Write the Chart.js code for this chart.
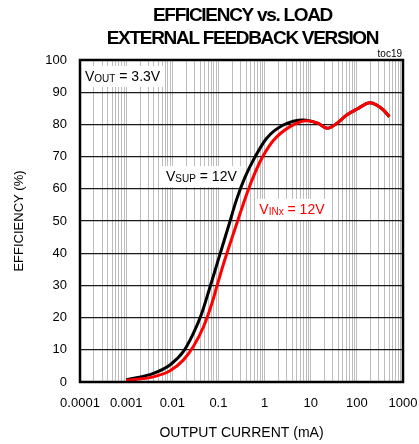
<!DOCTYPE html>
<html><head><meta charset="utf-8">
<script src="https://cdn.jsdelivr.net/npm/chart.js@4/dist/chart.umd.min.js"></script>
<style>html,body{margin:0;padding:0;background:#fff}canvas{display:block}</style>
</head><body>
<canvas id="c" width="419" height="444"></canvas>
<script>
const titleLines = ['EFFICIENCY vs. LOAD', 'EXTERNAL FEEDBACK VERSION'];
const figureTag = 'toc19';
const xTickLabels = ['0.0001', '0.001', '0.01', '0.1', '1', '10', '100', '1000'];
const yMin = 0, yMax = 100, yStep = 10;
const xTitle = 'OUTPUT CURRENT (mA)';
const yTitle = 'EFFICIENCY (%)';

// VSUP = 12V (black)
const vsupCurrent = [0.001, 0.0039, 0.0089, 0.0173, 0.0286, 0.0434, 0.0604, 0.0995, 0.164, 0.249, 0.377, 0.57, 1.11, 2.55, 6.9, 14.6, 22.9, 36.6, 60.2, 99, 193, 269, 374, 505];
const vsupEff     = [0.6,   2.7,    5.3,    9.4,    15.1,   21.3,   27.8,   38.0,   48.2,  56.8,  63.6,  68.9, 75.7, 79.8, 81.4, 80.3, 78.8, 80.3, 82.9, 84.7, 86.7, 86.0, 84.5, 82.4];
// VINx = 12V (red)
const vinxCurrent = [0.001, 0.0039, 0.0089, 0.0173, 0.0286, 0.047, 0.0715, 0.0995, 0.139, 0.229, 0.346, 0.526, 0.796, 1.02, 1.55, 3.56, 8.2, 14.6, 22.9, 36.6, 60.2, 99, 193, 269, 374, 505];
const vinxEff     = [0.5,   1.6,    3.5,    6.8,    11.0,   17.0,  24.2,   31.3,   38.2,  47.6,  55.3,  62.5,  68.4,  71.2, 75.0, 79.3, 81.1, 80.3, 78.8, 80.3, 82.9, 84.7, 86.7, 86.0, 84.5, 82.4];

// text annotations: [main, subscript, rest, color, anchor current, anchor efficiency]
const notes = [
  ['V', 'OUT', ' = 3.3V', '#000', 0.000128, 93.5],
  ['V', 'SUP', ' = 12V', '#000', 0.00731, 62.4],
  ['V', 'INx', ' = 12V', '#ff0000', 0.769, 52.2]
];

const FONT = "'Liberation Sans', Arial, sans-serif";
const toPts = (xs, ys) => xs.map((x, i) => ({x, y: ys[i]}));

const deco = {
  id: 'deco',
  beforeDatasetsDraw(chart) {
    const ctx = chart.ctx, xs = chart.scales.x, ys = chart.scales.y;
    ctx.save();
    for (const [m, sub, rest, col, ax, ay] of notes) {
      const px = xs.getPixelForValue(ax), py = ys.getPixelForValue(ay);
      ctx.font = '14px ' + FONT; const w1 = ctx.measureText(m).width; const w3 = ctx.measureText(rest).width;
      ctx.font = '10px ' + FONT; const w2 = ctx.measureText(sub).width;
      ctx.fillStyle = '#fff';
      ctx.fillRect(px - 4, py - 15, w1 + w2 + w3 + 8, 21);
      ctx.fillStyle = col; ctx.textBaseline = 'alphabetic'; ctx.textAlign = 'left';
      ctx.font = '14px ' + FONT; ctx.fillText(m, px, py);
      ctx.font = '10px ' + FONT; ctx.fillText(sub, px + w1, py + 1);
      ctx.font = '14px ' + FONT; ctx.fillText(rest, px + w1 + w2, py);
    }
    ctx.restore();
  },
  afterDraw(chart) {
    const ctx = chart.ctx, a = chart.chartArea;
    ctx.save();
    ctx.strokeStyle = '#000'; ctx.lineWidth = 2.5;
    ctx.strokeRect(a.left, a.top, a.right - a.left, a.bottom - a.top);
    ctx.fillStyle = '#000'; ctx.textAlign = 'center'; ctx.textBaseline = 'alphabetic';
    ctx.font = 'bold 19px ' + FONT;
    if ('letterSpacing' in ctx) ctx.letterSpacing = '-1.3px';
    const cx = (a.left + a.right) / 2 + 1;
    ctx.fillText(titleLines[0], cx, 21);
    ctx.fillText(titleLines[1], cx, 44);
    if ('letterSpacing' in ctx) ctx.letterSpacing = '0px';
    ctx.font = '10px ' + FONT; ctx.textAlign = 'right';
    ctx.fillText(figureTag, a.right - 1, 57);
    ctx.restore();
  }
};

new Chart(document.getElementById('c'), {
  type: 'line',
  data: {
    datasets: [
      {label: 'VINx = 12V', data: toPts(vinxCurrent, vinxEff), borderColor: '#ff0000', borderWidth: 3, pointRadius: 0, cubicInterpolationMode: 'monotone', fill: false},
      {label: 'VSUP = 12V', data: toPts(vsupCurrent, vsupEff), borderColor: '#000000', borderWidth: 3, pointRadius: 0, cubicInterpolationMode: 'monotone', fill: false}
    ]
  },
  options: {
    responsive: false, animation: false, events: [],
    layout: {padding: {top: 60, right: 16, left: 0, bottom: 0}},
    plugins: {legend: {display: false}, tooltip: {enabled: false}, title: {display: false}},
    scales: {
      x: {
        type: 'logarithmic', min: parseFloat(xTickLabels[0]), max: parseFloat(xTickLabels[xTickLabels.length - 1]),
        afterBuildTicks(scale) {
          const t = [];
          xTickLabels.forEach((lab, i) => {
            const d = parseFloat(lab);
            if (i < xTickLabels.length - 1) { for (let m = 1; m <= 9; m++) t.push({value: +(m * d).toPrecision(6)}); }
            else t.push({value: d});
          });
          scale.ticks = t;
        },
        afterFit(scale) { scale.height = 62; scale.paddingLeft = 0; scale.paddingRight = 0; },
        ticks: {
          autoSkip: false, maxRotation: 0, minRotation: 0, padding: 14, color: '#000',
          font: {family: FONT, size: 13},
          callback(v) { const l = xTickLabels.find(s => parseFloat(s) === v); return l === undefined ? '' : l; }
        },
        grid: {color: '#bdbdbd', lineWidth: 1, drawTicks: false},
        border: {display: false},
        title: {display: true, text: xTitle, color: '#000', font: {family: FONT, size: 14}, padding: {top: 0, bottom: 2}}
      },
      y: {
        type: 'linear', min: yMin, max: yMax,
        afterFit(scale) { scale.width = 80; },
        ticks: {stepSize: yStep, padding: 13, color: '#000', font: {family: FONT, size: 13}},
        grid: {color: '#1a1a1a', lineWidth: 1.2, drawTicks: false},
        border: {display: false},
        title: {display: true, text: yTitle, color: '#000', font: {family: FONT, size: 13}, padding: {top: 12, bottom: 0}}
      }
    }
  },
  plugins: [deco]
});
</script>
</body></html>
